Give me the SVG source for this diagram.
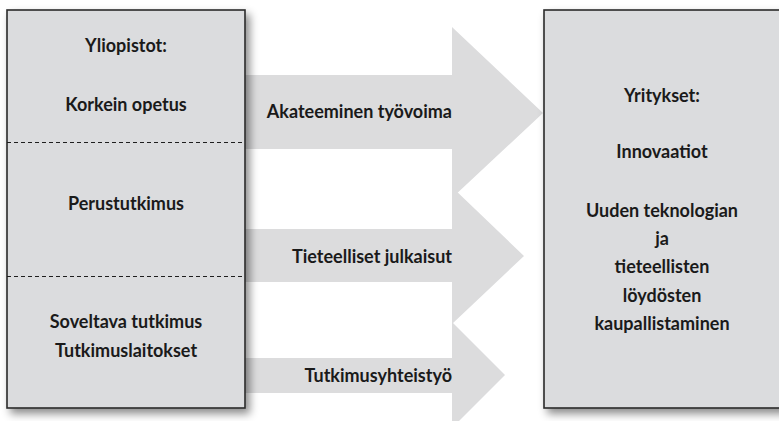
<svg xmlns="http://www.w3.org/2000/svg" width="779" height="421" viewBox="0 0 779 421">
  <style>
    .box { fill: #dbdcde; stroke: #2a2a2a; stroke-width: 1.6; }
    .sep { stroke: #1e1e1e; stroke-width: 1; stroke-dasharray: 4 3; fill: none; }
    .flow { fill: #dcdcdd; }
    text { font-family: "Lato", "Open Sans", "Liberation Sans", sans-serif; font-weight: bold; font-size: 18px; fill: #1a1a1a; }
    .c { text-anchor: middle; }
    .e { text-anchor: end; }
  </style>
  <defs>
    <filter id="shadow" x="-10%" y="-10%" width="130%" height="130%">
      <feDropShadow dx="4" dy="5" stdDeviation="4" flood-color="#000" flood-opacity="0.45"/>
    </filter>
  </defs>

  <rect width="779" height="421" fill="#ffffff"/>

  <!-- flows between the two blocks -->
  <g id="connectors">
    <g id="flow-tyovoima">
      <polygon class="flow" points="238,75 452,75 452,27 543,113 452,198 452,149 238,149"/>
      <text class="e" x="452" y="118">Akateeminen työvoima</text>
    </g>
    <g id="flow-julkaisut">
      <polygon class="flow" points="238,229 452,229 452,187 524,256 452,324 452,282 238,282"/>
      <text class="e" x="452" y="263">Tieteelliset julkaisut</text>
    </g>
    <g id="flow-yhteistyo">
      <polygon class="flow" points="238,358 452,358 452,322 505,375 452,428 452,393 238,393"/>
      <text class="e" x="452" y="382">Tutkimusyhteistyö</text>
    </g>
  </g>

  <!-- universities -->
  <g id="yliopistot">
    <rect class="box" x="7" y="10" width="238" height="398" filter="url(#shadow)"/>
    <line class="sep" x1="7" y1="142.5" x2="245" y2="142.5"/>
    <line class="sep" x1="7" y1="276.5" x2="245" y2="276.5"/>
    <text class="c" x="126" y="52">Yliopistot:</text>
    <text class="c" x="126" y="111">Korkein opetus</text>
    <text class="c" x="126" y="210">Perustutkimus</text>
    <text class="c" x="126" y="328">Soveltava tutkimus</text>
    <text class="c" x="126" y="357">Tutkimuslaitokset</text>
  </g>

  <!-- companies -->
  <g id="yritykset">
    <rect class="box" x="544" y="10" width="245" height="398" filter="url(#shadow)"/>
    <text class="c" x="662" y="102">Yritykset:</text>
    <text class="c" x="662" y="158">Innovaatiot</text>
    <text class="c" x="662" y="217">Uuden teknologian</text>
    <text class="c" x="662" y="245">ja</text>
    <text class="c" x="662" y="273">tieteellisten</text>
    <text class="c" x="662" y="302">löydösten</text>
    <text class="c" x="662" y="330">kaupallistaminen</text>
  </g>
</svg>
